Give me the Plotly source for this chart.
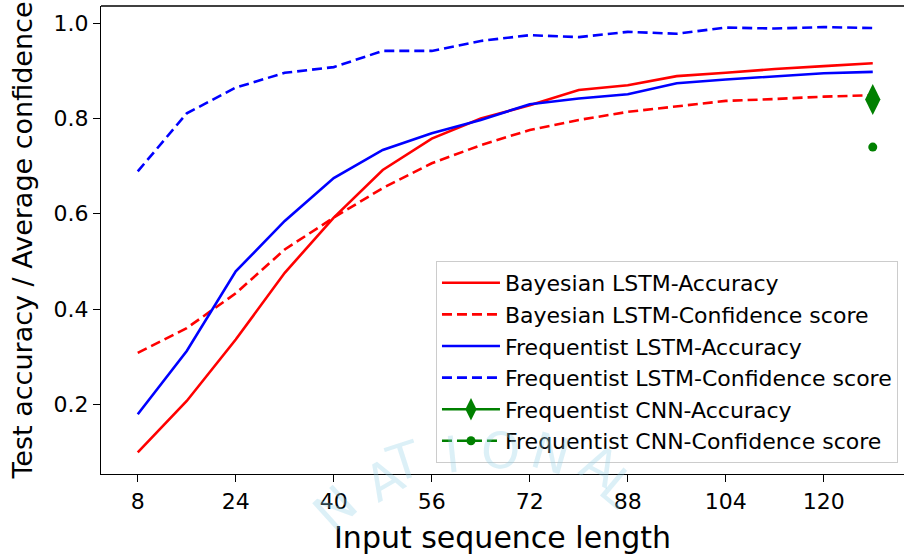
import plotly.graph_objects as go

# ---- data ----
seq_len = [8, 16, 24, 32, 40, 48, 56, 64, 72, 80, 88, 96, 104, 112, 120, 128]
bayes_acc = [0.099, 0.207, 0.336, 0.476, 0.592, 0.692, 0.758, 0.800, 0.828, 0.860,
             0.870, 0.889, 0.896, 0.904, 0.910, 0.916]
bayes_conf = [0.308, 0.360, 0.433, 0.525, 0.592, 0.654, 0.706, 0.744, 0.776, 0.797,
              0.814, 0.825, 0.837, 0.841, 0.846, 0.849]
freq_acc = [0.179, 0.312, 0.479, 0.585, 0.675, 0.734, 0.769, 0.797, 0.830, 0.842,
            0.851, 0.874, 0.882, 0.889, 0.895, 0.898]
freq_conf = [0.689, 0.811, 0.865, 0.896, 0.908, 0.942, 0.942, 0.963, 0.975, 0.971,
             0.982, 0.978, 0.991, 0.989, 0.992, 0.990]
cnn_x = [128]
cnn_acc = [0.840]
cnn_conf = [0.740]
x_ticks = [8, 24, 40, 56, 72, 88, 104, 120]
y_ticks = [0.2, 0.4, 0.6, 0.8, 1.0]
watermark = list("NATIONAL")

FONT = "DejaVu Sans"
DASH = "10px,5px"
LW = 2.6

fig = go.Figure()
fig.add_trace(go.Scatter(x=seq_len, y=bayes_acc, mode="lines", name="Bayesian LSTM-Accuracy",
                         line=dict(color="#ff0000", width=LW)))
fig.add_trace(go.Scatter(x=seq_len, y=bayes_conf, mode="lines", name="Bayesian LSTM-Confidence score",
                         line=dict(color="#ff0000", width=LW, dash=DASH)))
fig.add_trace(go.Scatter(x=seq_len, y=freq_acc, mode="lines", name="Frequentist LSTM-Accuracy",
                         line=dict(color="#0000ff", width=LW)))
fig.add_trace(go.Scatter(x=seq_len, y=freq_conf, mode="lines", name="Frequentist LSTM-Confidence score",
                         line=dict(color="#0000ff", width=LW, dash=DASH)))
fig.add_trace(go.Scatter(x=cnn_x, y=cnn_acc, mode="lines+markers", name="Frequentist CNN-Accuracy",
                         line=dict(color="#008000", width=LW),
                         marker=dict(symbol="diamond-tall", size=22, color="#008000")))
fig.add_trace(go.Scatter(x=cnn_x, y=cnn_conf, mode="lines+markers", name="Frequentist CNN-Confidence score",
                         line=dict(color="#008000", width=LW, dash=DASH),
                         marker=dict(symbol="circle", size=9, color="#008000")))

# faint watermark letters behind the x-axis title
wm_pos = [(300, 545, -42), (352, 516, -30), (404, 497, -18), (452, 487, -6),
          (500, 484, 5), (550, 489, 16), (600, 502, 28), (650, 522, 40)]
for ch, (px, py, rot) in zip(watermark, wm_pos):
    fig.add_annotation(x=(px - 101) / 803, y=(474 - py) / 468, xref="paper", yref="paper",
                       text=ch, showarrow=False, textangle=rot,
                       font=dict(family=FONT, size=50, color="rgba(140,205,228,0.30)"))

axis_common = dict(
    showgrid=False, zeroline=False, showline=True, linecolor="black", linewidth=1.4,
    ticks="outside", ticklen=7, tickwidth=1.3, tickcolor="black",
    tickfont=dict(family=FONT, size=22, color="black"),
)
fig.update_xaxes(range=[2.0, 133.1], tickmode="array", tickvals=x_ticks,
                 ticktext=[str(v) for v in x_ticks], mirror=False,
                 title=dict(text="Input sequence length", standoff=14,
                            font=dict(family=FONT, size=30, color="black")),
                 **axis_common)
fig.update_yaxes(range=[0.0536, 1.0363], tickmode="array", tickvals=y_ticks,
                 ticktext=[f"{v:.1f}" for v in y_ticks], mirror=False,
                 title=dict(text="Test accuracy / Average confidence", standoff=12,
                            font=dict(family=FONT, size=27, color="black")),
                 **axis_common)

# top spine
fig.add_shape(type="line", xref="paper", yref="paper", x0=0, x1=1, y0=1, y1=1,
              line=dict(color="black", width=1.4))

fig.update_layout(
    width=904, height=557,
    margin=dict(l=101, r=0, t=6, b=83),
    paper_bgcolor="white", plot_bgcolor="white",
    font=dict(family=FONT, color="black"),
    legend=dict(x=0.9925, y=0.0235, xanchor="right", yanchor="bottom",
                bgcolor="rgba(255,255,255,0.85)", bordercolor="#cccccc", borderwidth=1,
                itemwidth=58,
                font=dict(family=FONT, size=22, color="black"), tracegroupgap=0),
    showlegend=True,
)

fig.write_html("out.html")
